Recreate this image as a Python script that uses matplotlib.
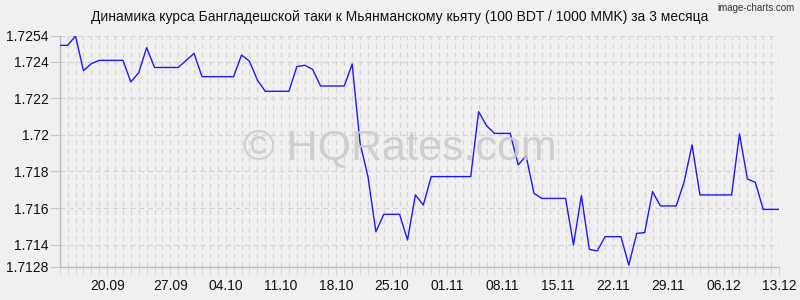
import matplotlib
matplotlib.use("Agg")
import matplotlib.pyplot as plt
import numpy as np

plt.rcParams['font.family'] = ['Liberation Sans', 'DejaVu Sans']

title = "Динамика курса Бангладешской таки к Мьянманскому кьяту (100 BDT / 1000 MMK) за 3 месяца"

rates = [
    1.72489, 1.72489, 1.72540, 1.72351, 1.72389, 1.72407, 1.72407, 1.72407,
    1.72407, 1.72289, 1.72340, 1.72476, 1.72368, 1.72368, 1.72368, 1.72368,
    1.72407, 1.72445, 1.72318, 1.72318, 1.72318, 1.72318, 1.72318, 1.72436,
    1.72403, 1.72300, 1.72238, 1.72238, 1.72238, 1.72238, 1.72373, 1.72380,
    1.72358, 1.72267, 1.72267, 1.72267, 1.72267, 1.72387, 1.71954, 1.71772,
    1.71471, 1.71566, 1.71566, 1.71566, 1.71426, 1.71672, 1.71617, 1.71772,
    1.71772, 1.71772, 1.71772, 1.71772, 1.71772, 1.72127, 1.72050, 1.72008,
    1.72008, 1.72008, 1.71836, 1.71886, 1.71681, 1.71653, 1.71653, 1.71653,
    1.71653, 1.71399, 1.71668, 1.71375, 1.71366, 1.71444, 1.71444, 1.71444,
    1.71289, 1.71462, 1.71466, 1.71690, 1.71612, 1.71612, 1.71612, 1.71744,
    1.71945, 1.71672, 1.71672, 1.71672, 1.71672, 1.71672, 1.72005, 1.71759,
    1.71741, 1.71593, 1.71593, 1.71593,
]

x_tick_pos = [6, 14, 21, 28, 35, 42, 49, 56, 63, 70, 77, 84, 91]
x_tick_labels = ["20.09", "27.09", "04.10", "11.10", "18.10", "25.10", "01.11",
                 "08.11", "15.11", "22.11", "29.11", "06.12", "13.12"]
y_ticks = [1.7128, 1.714, 1.716, 1.718, 1.72, 1.722, 1.724, 1.7254]
y_tick_labels = ["1.7128", "1.714", "1.716", "1.718", "1.72", "1.722", "1.724", "1.7254"]

bg = "#F0F0F0"
fig = plt.figure(figsize=(8, 3), dpi=100, facecolor=bg)
ax = fig.add_axes([59.7/800, 1 - 266.7/300, (779 - 59.7)/800, (266.7 - 36)/300])
ax.set_facecolor(bg)

x = np.arange(len(rates))
ax.set_xlim(0, len(rates) - 1)
ax.set_ylim(y_ticks[0], y_ticks[-1])

grid_kw = dict(color="#D4D4D4", linewidth=0.9, linestyle=(0, (4, 3)), zorder=1)
for xi in x:
    ax.axvline(xi, **grid_kw)
for yt in y_ticks:
    ax.axhline(yt, **grid_kw)

ax.plot(x, rates, color="#1A1AFF", linewidth=1.0, zorder=3)

ax.set_yticks(y_ticks)
ax.set_yticklabels(y_tick_labels, fontsize=10, color="#111111")
ax.set_xticks(x_tick_pos)
ax.set_xticklabels(x_tick_labels, fontsize=10, color="#111111")
ax.set_xticks(x, minor=True)
ax.tick_params(axis='y', length=7, color="#C8C8C8", pad=0.8)
ax.tick_params(axis='x', which='both', length=6, color="#D4D4D4", pad=2.5)

for side in ["top", "right"]:
    ax.spines[side].set_visible(False)
for side in ["left", "bottom"]:
    ax.spines[side].set_color("#BEBEBE")
    ax.spines[side].set_linewidth(1.0)

fig.text(0.5, 1 - 17/300, title, ha="center", va="center", fontsize=10, color="#111111")
fig.text(795/800, 1 - 8/300, "image-charts.com", ha="right", va="center", fontsize=7, color="#333333")
fig.text(400/800, 1 - 148/300, "© HQRates.com", ha="center", va="center", fontsize=31,
         color="#CACACA", alpha=0.85, zorder=2)

fig.savefig("out.png", dpi=100, facecolor=bg)
